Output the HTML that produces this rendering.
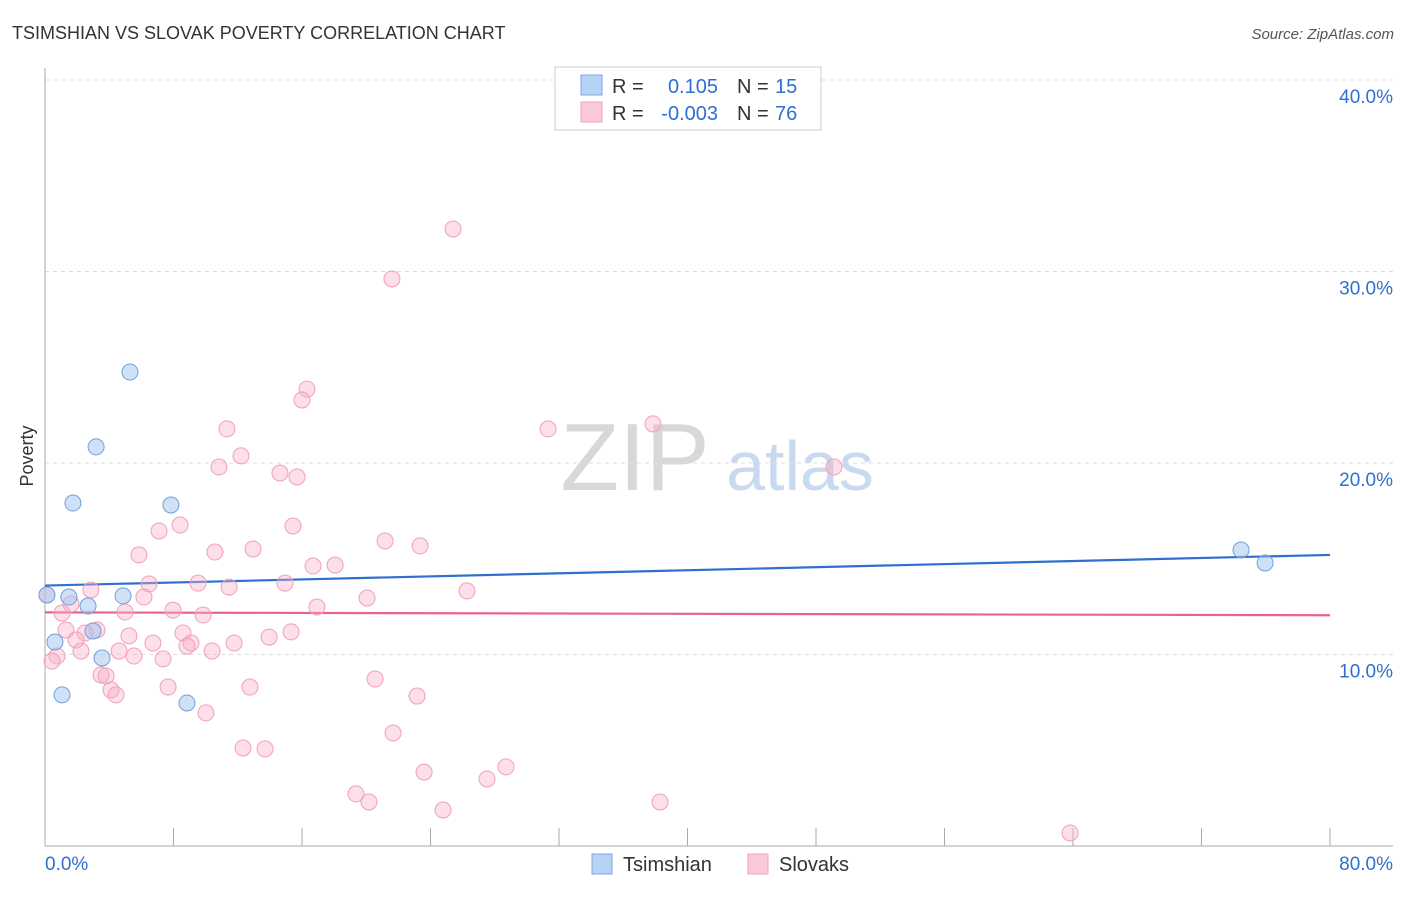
<!DOCTYPE html>
<html><head><meta charset="utf-8"><style>
body{margin:0;background:#fff;font-family:"Liberation Sans",sans-serif;}
svg text{font-family:"Liberation Sans",sans-serif;}
</style></head><body>
<svg id="chart" width="1406" height="892" xmlns="http://www.w3.org/2000/svg">
<text x="12" y="39" font-size="18" fill="#333">TSIMSHIAN VS SLOVAK POVERTY CORRELATION CHART</text>
<text x="1394" y="39" font-size="15" fill="#555" text-anchor="end" font-style="italic">Source: ZipAtlas.com</text>
<text transform="translate(33,456) rotate(-90)" font-size="18" fill="#333" text-anchor="middle">Poverty</text>
<g>
<text x="635" y="490" font-size="96" fill="#d8d8d8" text-anchor="middle" font-family="Liberation Serif">ZIP</text>
<text x="800" y="490" font-size="70" fill="#c9d9f0" text-anchor="middle">atlas</text>
</g>
<g id="grid"></g><g id="axes"></g><g id="lines"></g><g id="pts"></g>
<g>
<rect x="555" y="67" width="266" height="63" fill="#fff" stroke="#ccc"/>
<rect x="581" y="75" width="21" height="20" fill="#b8d2f5" stroke="#7aaae0"/>
<rect x="581" y="102" width="21" height="20" fill="#fac8d6" stroke="#f0a0b8"/>
<text x="612" y="93" font-size="20" fill="#333">R =</text>
<text x="718" y="93" font-size="20" fill="#2f6fd1" text-anchor="end">0.105</text>
<text x="737" y="93" font-size="20" fill="#333">N =</text>
<text x="775" y="93" font-size="20" fill="#2f6fd1">15</text>
<text x="612" y="120" font-size="20" fill="#333">R =</text>
<text x="718" y="120" font-size="20" fill="#2f6fd1" text-anchor="end">-0.003</text>
<text x="737" y="120" font-size="20" fill="#333">N =</text>
<text x="775" y="120" font-size="20" fill="#2f6fd1">76</text>
</g>
<g>
<rect x="592" y="854" width="20" height="20" fill="#b8d2f5" stroke="#7aaae0"/>
<text x="623" y="871" font-size="20" fill="#333">Tsimshian</text>
<rect x="748" y="854" width="20" height="20" fill="#fac8d6" stroke="#f0a0b8"/>
<text x="779" y="871" font-size="20" fill="#333">Slovaks</text>
</g>
</svg>
<script>
const yTicks=[10,20,30,40];
const yTickLabels=["10.0%","20.0%","30.0%","40.0%"];
const xTicks=[0,8,16,24,32,40,48,56,64,72,80];
const xEndLabels=["0.0%","80.0%"];
const blueX=[5.29,3.18,1.74,7.84,0.12,1.49,4.86,2.68,2.99,0.62,3.55,1.06,8.84,74.46,75.96];
const blueY=[24.75,20.84,17.91,17.81,13.11,13.0,13.06,12.53,11.23,10.65,9.82,7.89,7.47,15.46,14.78];
const pinkX=[25.40,21.60,16.31,16.00,37.85,31.32,11.33,12.20,10.83,49.12,14.63,15.69,8.41,15.44,7.10,21.17,23.35,12.95,10.58,5.85,16.69,18.06,6.48,9.53,11.46,14.94,2.86,26.27,20.05,0.12,6.16,1.62,1.06,7.97,4.98,9.84,16.93,1.31,3.24,2.49,8.59,15.32,5.23,1.93,6.72,9.09,11.77,13.95,8.84,2.24,4.61,10.40,0.75,5.54,7.35,0.44,3.49,3.80,20.55,7.66,12.76,4.11,4.42,23.16,10.02,21.67,12.33,13.70,23.60,27.52,28.70,19.36,20.17,24.78,38.29,63.82];
const pinkY=[32.22,29.61,23.86,23.29,22.04,21.78,21.78,20.37,19.79,19.79,19.48,19.27,16.76,16.71,16.45,15.93,15.67,15.51,15.35,15.20,14.62,14.67,13.68,13.73,13.52,13.73,13.37,13.32,12.95,13.11,13.00,12.64,12.17,12.32,12.22,12.06,12.48,11.28,11.28,11.12,11.12,11.18,10.97,10.76,10.60,10.60,10.60,10.91,10.44,10.18,10.18,10.18,9.92,9.92,9.77,9.66,8.93,8.88,8.72,8.30,8.30,8.15,7.89,7.83,6.95,5.90,5.12,5.07,3.86,3.50,4.13,2.72,2.30,1.88,2.30,0.68];
const blueTrend=[13.6,15.2];
const pinkTrend=[12.2,12.05];
const NS="http://www.w3.org/2000/svg";
const X=v=>45+v/80*1285;
const Y=v=>846-v*19.15;
function mk(tag,attrs,parent){const e=document.createElementNS(NS,tag);for(const k in attrs)e.setAttribute(k,attrs[k]);document.getElementById(parent).appendChild(e);return e;}
yTicks.forEach((t,i)=>{
 const g=mk('line',{x1:45,x2:1393,y1:Y(t),y2:Y(t),stroke:'#ddd','stroke-dasharray':'4,4'},'grid');
 
 
 const l=mk('text',{x:1393,y:Y(t)+23,'font-size':19,fill:'#2f6fd1','text-anchor':'end'},'grid');
 l.textContent=yTickLabels[i];
 
 
});
const ax=mk('line',{x1:45,x2:45,y1:68,y2:846,stroke:'#aaa'},'axes');


const bx=mk('line',{x1:45,x2:1393,y1:846,y2:846,stroke:'#aaa'},'axes');


xTicks.forEach(t=>{
 const k=mk('line',{x1:X(t),x2:X(t),y1:828,y2:846,stroke:'#aaa'},'axes');
 
 
});
[[0,'start'],[80,'end']].forEach((p,i)=>{
 const l=mk('text',{x:X(p[0])+(i?63:0),y:870,'font-size':19,fill:'#2f6fd1','text-anchor':p[1]},'axes');
 l.textContent=xEndLabels[i];
 
 
});
const bl=mk('line',{x1:X(0),x2:X(80),y1:Y(blueTrend[0]),y2:Y(blueTrend[1]),stroke:'#2f6fd1','stroke-width':2.2},'lines');


const pl=mk('line',{x1:X(0),x2:X(80),y1:Y(pinkTrend[0]),y2:Y(pinkTrend[1]),stroke:'#e8648c','stroke-width':2.2},'lines');


pinkX.forEach((x,i)=>{
 const c=mk('circle',{cx:X(x),cy:Y(pinkY[i]),r:8,fill:'rgba(248,175,198,0.4)',stroke:'#f0a0b8','stroke-width':1},'pts');
 
 
});
blueX.forEach((x,i)=>{
 const c=mk('circle',{cx:X(x),cy:Y(blueY[i]),r:8,fill:'rgba(160,196,240,0.5)',stroke:'#6fa0dc','stroke-width':1},'pts');
 
 
});
</script>
</body></html>
